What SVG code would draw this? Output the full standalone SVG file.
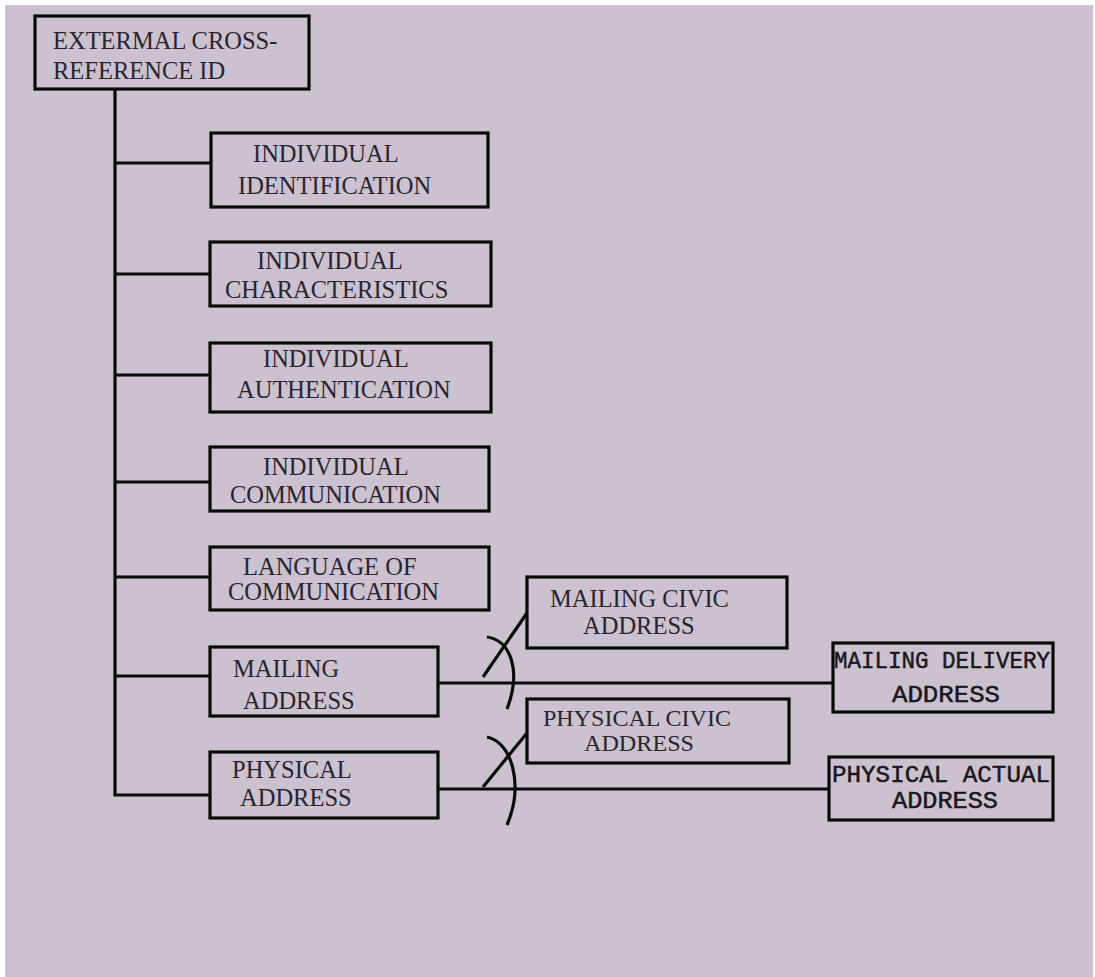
<svg xmlns="http://www.w3.org/2000/svg" width="1095" height="977" viewBox="0 0 1095 977">
<style>
.box{fill:none;stroke:#0a0a0a;stroke-width:3.2}
.ln{fill:none;stroke:#0a0a0a;stroke-width:3.2}
.t{font-family:"Liberation Serif","Times New Roman",serif;font-size:24.5px;fill:#2a2430}
.tc{font-family:"Liberation Serif","Times New Roman",serif;font-size:23px;fill:#2a2430}
.m{font-family:"Liberation Mono","Courier New",monospace;font-size:24px;fill:#1a1620;stroke:#1a1620;stroke-width:0.5}
</style>
<rect x="0" y="0" width="1095" height="977" fill="#ffffff"/>
<rect x="5" y="5" width="1088" height="972" fill="#cbc1cf"/>
<g id="connectors">
<path class="ln" d="M115,89 V795 H210"/>
<path class="ln" d="M115,163 H210"/>
<path class="ln" d="M115,274 H210"/>
<path class="ln" d="M115,375 H210"/>
<path class="ln" d="M115,482 H210"/>
<path class="ln" d="M115,577 H210"/>
<path class="ln" d="M115,676 H210"/>
<path class="ln" d="M438,683 H833"/>
<path class="ln" d="M438,789 H829"/>
<path class="ln" d="M483,677 L527,613"/>
<path class="ln" d="M487,637 C510,640 522,670 507,709"/>
<path class="ln" d="M483,787 L527,733"/>
<path class="ln" d="M487,737 C512,742 524,785 507,825"/>
</g>
<g id="root">
<rect class="box" x="35" y="16" width="274" height="73"/>
<text class="t" x="53" y="49">EXTERMAL CROSS-</text>
<text class="t" x="53" y="79">REFERENCE ID</text>
</g>
<g id="ind-identification">
<rect class="box" x="211" y="133" width="277" height="74"/>
<text class="t" x="253" y="162">INDIVIDUAL</text>
<text class="t" x="238" y="194">IDENTIFICATION</text>
</g>
<g id="ind-characteristics">
<rect class="box" x="210" y="242" width="281" height="64"/>
<text class="t" x="257" y="269">INDIVIDUAL</text>
<text class="t" x="225" y="298">CHARACTERISTICS</text>
</g>
<g id="ind-authentication">
<rect class="box" x="210" y="343" width="281" height="69"/>
<text class="t" x="263" y="367">INDIVIDUAL</text>
<text class="t" x="237" y="398">AUTHENTICATION</text>
</g>
<g id="ind-communication">
<rect class="box" x="210" y="447" width="279" height="64"/>
<text class="t" x="263" y="475">INDIVIDUAL</text>
<text class="t" x="230" y="503">COMMUNICATION</text>
</g>
<g id="language">
<rect class="box" x="210" y="547" width="279" height="63"/>
<text class="t" x="243" y="575">LANGUAGE OF</text>
<text class="t" x="228" y="600">COMMUNICATION</text>
</g>
<g id="mailing-address">
<rect class="box" x="210" y="647" width="228" height="69"/>
<text class="t" x="233" y="677">MAILING</text>
<text class="t" x="243" y="709">ADDRESS</text>
</g>
<g id="physical-address">
<rect class="box" x="210" y="752" width="228" height="66"/>
<text class="t" x="232" y="778">PHYSICAL</text>
<text class="t" x="240" y="806">ADDRESS</text>
</g>
<g id="mailing-civic">
<rect class="box" x="527" y="577" width="260" height="71"/>
<text class="t" x="550" y="607">MAILING CIVIC</text>
<text class="t" x="583" y="634">ADDRESS</text>
</g>
<g id="physical-civic">
<rect class="box" x="527" y="699" width="262" height="64"/>
<text class="tc" x="543" y="726" textLength="188" lengthAdjust="spacingAndGlyphs">PHYSICAL CIVIC</text>
<text class="tc" x="584" y="751" textLength="110" lengthAdjust="spacingAndGlyphs">ADDRESS</text>
</g>
<g id="mailing-delivery">
<rect class="box" x="833" y="643" width="220" height="69"/>
<text class="m" x="834" y="668" textLength="216" lengthAdjust="spacingAndGlyphs">MAILING DELIVERY</text>
<text class="m" x="892" y="702" textLength="108" lengthAdjust="spacingAndGlyphs">ADDRESS</text>
</g>
<g id="physical-actual">
<rect class="box" x="829" y="757" width="224" height="63"/>
<text class="m" x="832" y="782" textLength="218" lengthAdjust="spacingAndGlyphs">PHYSICAL ACTUAL</text>
<text class="m" x="892" y="808" textLength="106" lengthAdjust="spacingAndGlyphs">ADDRESS</text>
</g>
</svg>
